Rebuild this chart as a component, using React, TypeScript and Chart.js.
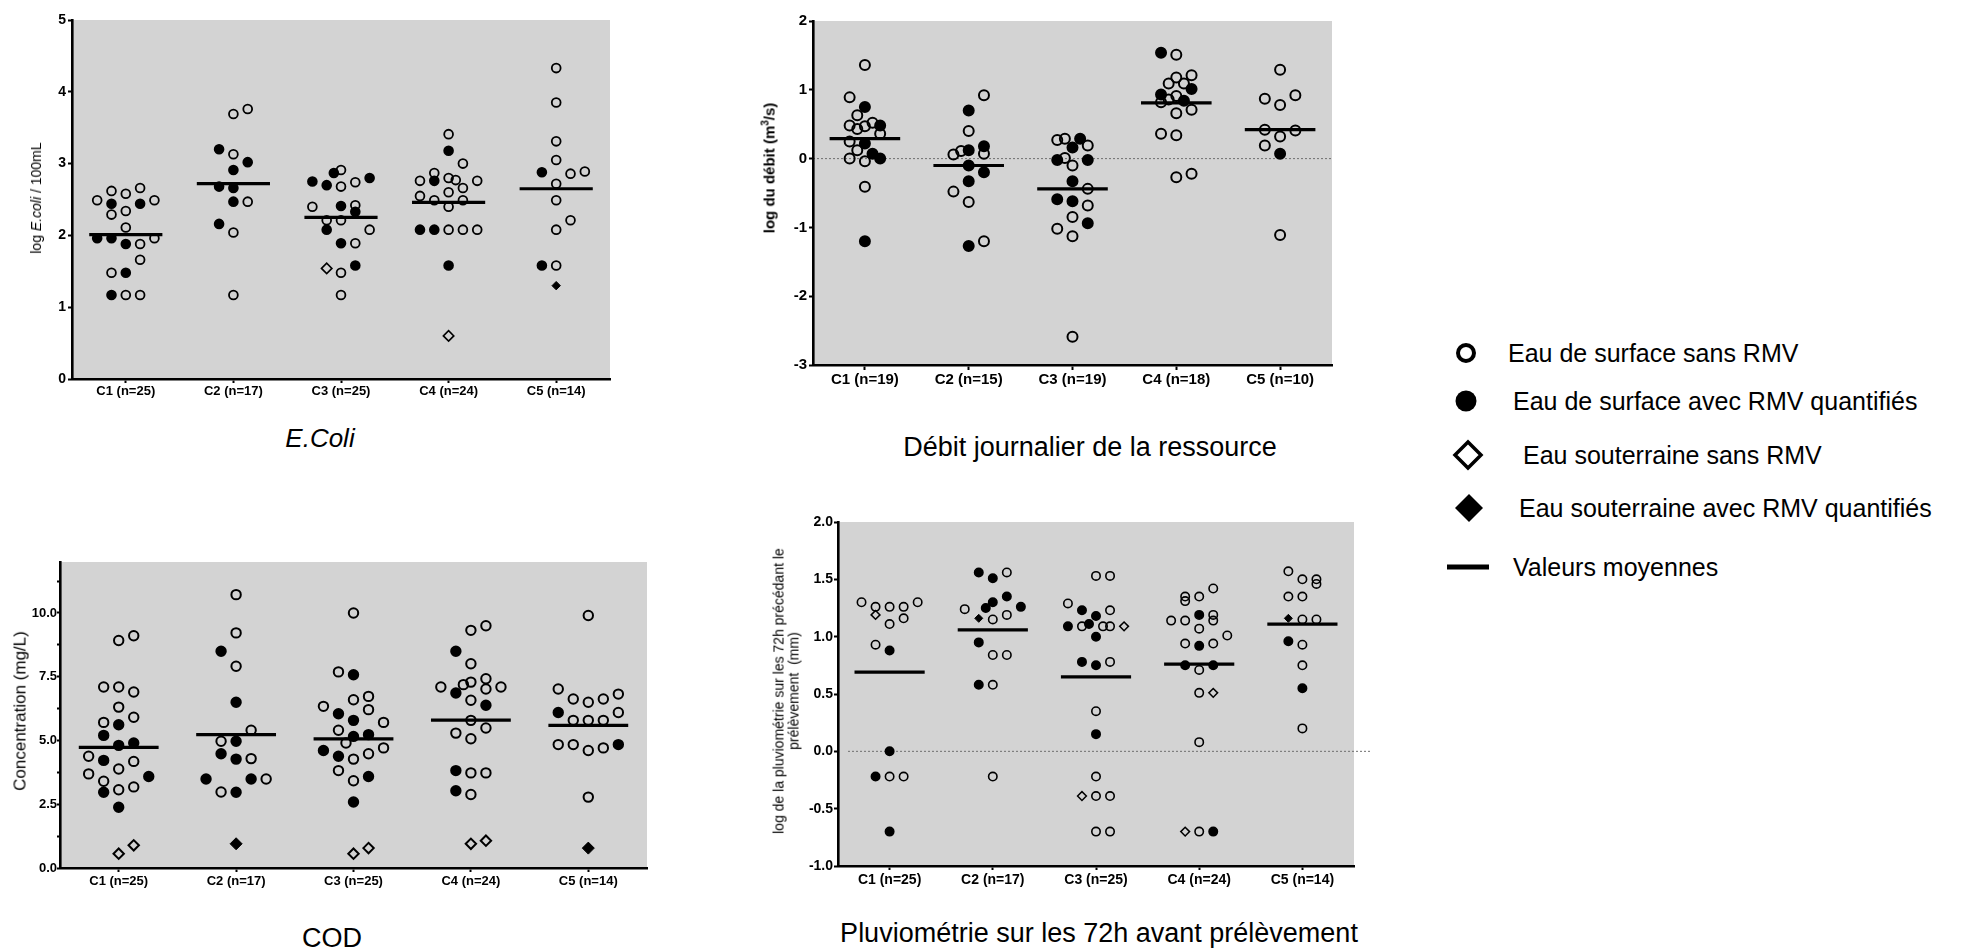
import React, { useEffect, useRef } from 'react';
import { Chart, registerables } from 'chart.js';

Chart.register(...registerables);

type Kind = 'o' | 'f' | 'd' | 'D';
// [category number (1..5), swarm slot, value, kind]
type Pt = [number, number, number, Kind];

const FONT = "'Liberation Sans', Arial, Helvetica, sans-serif";

// ---------- Categories ----------
const ecoliCategories = ['C1 (n=25)', 'C2 (n=17)', 'C3 (n=25)', 'C4 (n=24)', 'C5 (n=14)'];
const debitCategories = ['C1 (n=19)', 'C2 (n=15)', 'C3 (n=19)', 'C4 (n=18)', 'C5 (n=10)'];
const codCategories = ['C1 (n=25)', 'C2 (n=17)', 'C3 (n=25)', 'C4 (n=24)', 'C5 (n=14)'];
const pluvioCategories = ['C1 (n=25)', 'C2 (n=17)', 'C3 (n=25)', 'C4 (n=24)', 'C5 (n=14)'];

// ---------- Y ticks ----------
const ecoliYTicks = [0, 1, 2, 3, 4, 5];
const ecoliYLabels = ['0', '1', '2', '3', '4', '5'];
const debitYTicks = [-3, -2, -1, 0, 1, 2];
const debitYLabels = ['-3', '-2', '-1', '0', '1', '2'];
const codYTicks = [0, 1.25, 2.5, 3.75, 5, 6.25, 7.5, 8.75, 10, 11.25];
const codYLabels = ['0.0', '', '2.5', '', '5.0', '', '7.5', '', '10.0', ''];
const pluvioYTicks = [-1, -0.5, 0, 0.5, 1, 1.5, 2];
const pluvioYLabels = ['-1.0', '-0.5', '0.0', '0.5', '1.0', '1.5', '2.0'];

// ---------- Means ----------
const ecoliMeans = [2.01, 2.72, 2.25, 2.46, 2.65];
const debitMeans = [0.29, -0.1, -0.44, 0.81, 0.42];
const codMeans = [4.73, 5.23, 5.06, 5.8, 5.59];
const pluvioMeans = [0.69, 1.06, 0.65, 0.76, 1.11];

// ---------- Points ----------
const ecoliPoints: Pt[] = [
  [1, -2, 2.49, 'o'], [1, -1, 2.62, 'o'], [1, 0, 2.58, 'o'], [1, 1, 2.66, 'o'], [1, 2, 2.49, 'o'],
  [1, -1, 2.44, 'f'], [1, 1, 2.44, 'f'], [1, -1, 2.29, 'o'], [1, 0, 2.34, 'o'], [1, 0, 2.11, 'o'],
  [1, -2, 1.96, 'f'], [1, -1, 1.96, 'f'], [1, 0, 1.88, 'f'], [1, 1, 1.88, 'o'], [1, 2, 1.96, 'o'],
  [1, 1, 1.66, 'o'], [1, -1, 1.48, 'o'], [1, 0, 1.48, 'f'], [1, -1, 1.17, 'f'], [1, 0, 1.17, 'o'], [1, 1, 1.17, 'o'],
  [2, 0, 3.69, 'o'], [2, 1, 3.76, 'o'], [2, -1, 3.2, 'f'], [2, 0, 3.13, 'o'], [2, 1, 3.02, 'f'], [2, 0, 2.91, 'f'],
  [2, -1, 2.68, 'f'], [2, 0, 2.66, 'f'], [2, 0, 2.47, 'f'], [2, 1, 2.47, 'o'], [2, -1, 2.16, 'f'], [2, 0, 2.04, 'o'], [2, 0, 1.17, 'o'],
  [3, -2, 2.75, 'f'], [3, -1, 2.7, 'f'], [3, -0.5, 2.87, 'f'], [3, 0, 2.91, 'o'], [3, 0, 2.68, 'o'], [3, 1, 2.74, 'o'], [3, 2, 2.8, 'f'],
  [3, -2, 2.4, 'o'], [3, 0, 2.41, 'f'], [3, 1, 2.42, 'o'], [3, 1, 2.33, 'f'], [3, -1, 2.21, 'o'], [3, 0, 2.21, 'o'],
  [3, -1, 2.08, 'f'], [3, 2, 2.08, 'o'], [3, 0, 1.89, 'f'], [3, 1, 1.89, 'o'], [3, -1, 1.54, 'd'], [3, 0, 1.48, 'o'], [3, 1, 1.58, 'f'], [3, 0, 1.17, 'o'],
  [4, 0, 3.41, 'o'], [4, 0, 3.18, 'f'], [4, 1, 3.0, 'o'], [4, -1, 2.87, 'o'], [4, -2, 2.76, 'o'], [4, -1, 2.76, 'f'], [4, 0, 2.8, 'o'],
  [4, 0.5, 2.77, 'o'], [4, 2, 2.76, 'o'], [4, 1, 2.66, 'o'], [4, 0, 2.6, 'o'], [4, -2, 2.55, 'o'], [4, -1, 2.49, 'o'], [4, 1, 2.49, 'o'], [4, 0, 2.4, 'o'],
  [4, -2, 2.08, 'f'], [4, -1, 2.08, 'f'], [4, 0, 2.08, 'o'], [4, 1, 2.08, 'o'], [4, 2, 2.08, 'o'], [4, 0, 1.58, 'f'], [4, 0, 0.6, 'd'],
  [5, 0, 4.33, 'o'], [5, 0, 3.85, 'o'], [5, 0, 3.31, 'o'], [5, 0, 3.05, 'o'], [5, -1, 2.88, 'f'], [5, 1, 2.86, 'o'], [5, 2, 2.89, 'o'],
  [5, 0, 2.72, 'o'], [5, 0, 2.49, 'o'], [5, 1, 2.21, 'o'], [5, 0, 2.08, 'o'], [5, -1, 1.58, 'f'], [5, 0, 1.58, 'o'], [5, 0, 1.3, 'D'],
];

const debitPoints: Pt[] = [
  [1, 0, 1.36, 'o'], [1, -1, 0.89, 'o'], [1, 0, 0.75, 'f'], [1, -0.5, 0.63, 'o'], [1, -1, 0.48, 'o'], [1, -0.5, 0.43, 'o'],
  [1, 0, 0.47, 'o'], [1, 0.5, 0.52, 'o'], [1, 1, 0.48, 'f'], [1, 1, 0.36, 'o'], [1, -1, 0.25, 'o'], [1, 0, 0.22, 'f'],
  [1, -0.5, 0.12, 'o'], [1, 0.5, 0.07, 'f'], [1, -1, 0.0, 'o'], [1, 0, -0.04, 'o'], [1, 1, 0.0, 'f'], [1, 0, -0.41, 'o'], [1, 0, -1.2, 'f'],
  [2, 1, 0.92, 'o'], [2, 0, 0.7, 'f'], [2, 0, 0.4, 'o'], [2, -1, 0.06, 'o'], [2, -0.5, 0.11, 'o'], [2, 0, 0.12, 'f'], [2, 1, 0.18, 'f'],
  [2, 1, 0.07, 'o'], [2, 0, -0.1, 'f'], [2, 1, -0.2, 'f'], [2, 0, -0.33, 'f'], [2, -1, -0.48, 'o'], [2, 0, -0.63, 'o'], [2, 0, -1.27, 'f'], [2, 1, -1.2, 'o'],
  [3, -1, 0.27, 'o'], [3, -0.5, 0.29, 'o'], [3, 0.5, 0.29, 'f'], [3, 0, 0.16, 'f'], [3, 1, 0.19, 'o'], [3, -1, -0.02, 'f'], [3, -0.5, 0.01, 'o'],
  [3, 0, -0.1, 'o'], [3, 1, -0.02, 'f'], [3, 0, -0.33, 'f'], [3, 1, -0.44, 'o'], [3, -1, -0.59, 'f'], [3, 0, -0.62, 'f'], [3, 1, -0.68, 'o'],
  [3, 0, -0.85, 'o'], [3, 1, -0.94, 'f'], [3, -1, -1.02, 'o'], [3, 0, -1.13, 'o'], [3, 0, -2.59, 'o'],
  [4, -1, 1.54, 'f'], [4, 0, 1.51, 'o'], [4, 0, 1.18, 'o'], [4, 1, 1.21, 'o'], [4, -0.5, 1.09, 'o'], [4, 0.5, 1.09, 'o'], [4, 1, 1.01, 'f'],
  [4, -1, 0.93, 'f'], [4, -0.5, 0.86, 'o'], [4, 0, 0.91, 'o'], [4, 0.5, 0.84, 'f'], [4, -1, 0.82, 'o'], [4, 1, 0.71, 'o'], [4, 0, 0.66, 'o'],
  [4, -1, 0.36, 'o'], [4, 0, 0.34, 'o'], [4, 0, -0.27, 'o'], [4, 1, -0.22, 'o'],
  [5, 0, 1.29, 'o'], [5, -1, 0.87, 'o'], [5, 0, 0.78, 'o'], [5, 1, 0.92, 'o'], [5, -1, 0.42, 'o'], [5, 1, 0.41, 'o'], [5, 0, 0.32, 'o'],
  [5, -1, 0.19, 'o'], [5, 0, 0.07, 'f'], [5, 0, -1.11, 'o'],
];

const codPoints: Pt[] = [
  [1, 0, 8.92, 'o'], [1, 1, 9.11, 'o'], [1, -1, 7.1, 'o'], [1, 0, 7.1, 'o'], [1, 1, 6.9, 'o'], [1, 0, 6.31, 'o'], [1, -1, 5.71, 'o'],
  [1, 0, 5.62, 'f'], [1, 1, 5.91, 'o'], [1, -1, 5.2, 'f'], [1, 0, 4.81, 'f'], [1, 1, 4.9, 'f'], [1, -2, 4.38, 'o'], [1, -1, 4.22, 'f'],
  [1, 1, 4.18, 'o'], [1, 0, 3.88, 'o'], [1, 2, 3.59, 'f'], [1, -2, 3.69, 'o'], [1, -1, 3.4, 'o'], [1, -1, 2.97, 'f'], [1, 0, 3.07, 'o'],
  [1, 1, 3.18, 'o'], [1, 0, 2.38, 'f'], [1, 0, 0.56, 'd'], [1, 1, 0.89, 'd'],
  [2, 0, 10.72, 'o'], [2, 0, 9.22, 'o'], [2, -1, 8.5, 'f'], [2, 0, 7.91, 'o'], [2, 0, 6.5, 'f'], [2, 1, 5.4, 'o'], [2, -1, 4.97, 'o'],
  [2, 0, 4.97, 'f'], [2, -1, 4.48, 'f'], [2, 0, 4.27, 'f'], [2, 1, 4.29, 'o'], [2, -2, 3.49, 'f'], [2, 1, 3.49, 'f'], [2, 2, 3.49, 'o'],
  [2, -1, 2.98, 'o'], [2, 0, 2.97, 'f'], [2, 0, 0.95, 'D'],
  [3, 0, 10.0, 'o'], [3, -1, 7.69, 'o'], [3, 0, 7.58, 'f'], [3, 0, 6.6, 'o'], [3, 1, 6.73, 'o'], [3, -2, 6.34, 'o'], [3, 1, 6.21, 'o'],
  [3, -1, 6.05, 'f'], [3, 0, 5.79, 'f'], [3, 2, 5.71, 'o'], [3, -1, 5.4, 'o'], [3, 0, 5.16, 'f'], [3, 1, 5.23, 'f'], [3, -0.5, 4.9, 'o'],
  [3, -2, 4.61, 'f'], [3, 2, 4.71, 'o'], [3, -1, 4.38, 'f'], [3, 1, 4.48, 'o'], [3, 0, 4.27, 'o'], [3, -1, 3.82, 'o'], [3, 1, 3.59, 'f'],
  [3, 0, 3.42, 'o'], [3, 0, 2.59, 'f'], [3, 0, 0.56, 'd'], [3, 1, 0.78, 'd'],
  [4, 0, 9.32, 'o'], [4, 1, 9.5, 'o'], [4, -1, 8.5, 'f'], [4, 0, 8.01, 'o'], [4, -2, 7.1, 'o'], [4, -0.5, 7.19, 'o'], [4, 0, 7.29, 'o'],
  [4, 1, 7.42, 'o'], [4, 1, 7.02, 'o'], [4, 2, 7.1, 'o'], [4, -1, 6.86, 'f'], [4, 0, 6.58, 'o'], [4, 1, 6.38, 'f'], [4, 0, 5.79, 'o'],
  [4, 1, 5.49, 'o'], [4, -1, 5.29, 'o'], [4, 0, 5.07, 'o'], [4, -1, 3.82, 'f'], [4, 0, 3.73, 'o'], [4, 1, 3.73, 'o'], [4, -1, 3.03, 'f'],
  [4, 0, 2.88, 'o'], [4, 0, 0.95, 'd'], [4, 1, 1.07, 'd'],
  [5, 0, 9.9, 'o'], [5, -2, 7.02, 'o'], [5, -1, 6.63, 'o'], [5, 0, 6.5, 'o'], [5, 1, 6.63, 'o'], [5, 2, 6.82, 'o'], [5, -2, 6.1, 'f'],
  [5, -1, 5.79, 'o'], [5, 0, 5.79, 'o'], [5, 1, 5.79, 'o'], [5, 2, 6.1, 'o'], [5, -2, 4.84, 'o'], [5, -1, 4.84, 'o'], [5, 0, 4.61, 'o'],
  [5, 1, 4.71, 'o'], [5, 2, 4.84, 'f'], [5, 0, 2.78, 'o'], [5, 0, 0.78, 'D'],
];

const pluvioPoints: Pt[] = [
  [1, -2, 1.3, 'o'], [1, -1, 1.26, 'o'], [1, 0, 1.26, 'o'], [1, 1, 1.26, 'o'], [1, 2, 1.3, 'o'], [1, -1, 1.19, 'd'], [1, 0, 1.11, 'o'],
  [1, 1, 1.16, 'o'], [1, -1, 0.93, 'o'], [1, 0, 0.88, 'f'], [1, 0, 0.0, 'f'], [1, -1, -0.22, 'f'], [1, 0, -0.22, 'o'], [1, 1, -0.22, 'o'], [1, 0, -0.7, 'f'],
  [2, -1, 1.56, 'f'], [2, 0, 1.51, 'f'], [2, 1, 1.56, 'o'], [2, 1, 1.35, 'f'], [2, 0, 1.3, 'f'], [2, -0.5, 1.25, 'f'], [2, -2, 1.24, 'o'],
  [2, 2, 1.26, 'f'], [2, -1, 1.16, 'D'], [2, 0, 1.15, 'o'], [2, 1, 1.19, 'o'], [2, -1, 0.95, 'f'], [2, 0, 0.84, 'o'], [2, 1, 0.84, 'o'],
  [2, -1, 0.58, 'f'], [2, 0, 0.58, 'o'], [2, 0, -0.22, 'o'],
  [3, 0, 1.53, 'o'], [3, 1, 1.53, 'o'], [3, -2, 1.29, 'o'], [3, -1, 1.23, 'f'], [3, 1, 1.23, 'o'], [3, 0, 1.18, 'f'], [3, -2, 1.09, 'f'],
  [3, -1, 1.09, 'o'], [3, -0.5, 1.11, 'f'], [3, 0.5, 1.09, 'o'], [3, 1, 1.09, 'o'], [3, 2, 1.09, 'd'], [3, 0, 1.0, 'f'], [3, -1, 0.78, 'f'],
  [3, 0, 0.75, 'f'], [3, 1, 0.78, 'o'], [3, 0, 0.35, 'o'], [3, 0, 0.15, 'f'], [3, 0, -0.22, 'o'], [3, -1, -0.39, 'd'], [3, 0, -0.39, 'o'],
  [3, 1, -0.39, 'o'], [3, 0, -0.7, 'o'], [3, 1, -0.7, 'o'],
  [4, 1, 1.42, 'o'], [4, -1, 1.35, 'o'], [4, -1, 1.31, 'o'], [4, 0, 1.35, 'o'], [4, 0, 1.19, 'f'], [4, 1, 1.19, 'o'], [4, -2, 1.14, 'o'],
  [4, -1, 1.14, 'o'], [4, 1, 1.14, 'o'], [4, 0, 1.07, 'o'], [4, 2, 1.01, 'o'], [4, -1, 0.94, 'o'], [4, 0, 0.92, 'f'], [4, 1, 0.94, 'o'],
  [4, -1, 0.75, 'f'], [4, 1, 0.75, 'f'], [4, 0, 0.71, 'o'], [4, 0, 0.51, 'o'], [4, 1, 0.51, 'd'], [4, 0, 0.08, 'o'], [4, -1, -0.7, 'd'],
  [4, 0, -0.7, 'o'], [4, 1, -0.7, 'f'],
  [5, -1, 1.57, 'o'], [5, 0, 1.5, 'o'], [5, 1, 1.5, 'o'], [5, 1, 1.46, 'o'], [5, -1, 1.35, 'o'], [5, 0, 1.35, 'o'], [5, -1, 1.16, 'D'],
  [5, 0, 1.15, 'o'], [5, 1, 1.15, 'o'], [5, -1, 0.96, 'f'], [5, 0, 0.93, 'o'], [5, 0, 0.75, 'o'], [5, 0, 0.55, 'f'], [5, 0, 0.2, 'o'],
];

const legendLabels = [
  'Eau de surface sans RMV',
  'Eau de surface avec RMV quantifiés',
  'Eau souterraine sans RMV',
  'Eau souterraine avec RMV quantifiés',
  'Valeurs moyennes',
];

// ---------- Styles / layout (not data) ----------
interface PanelStyle {
  box: { x: number; y: number; w: number; h: number };
  plot: { l: number; t: number; r: number; b: number };
  yMin: number; yMax: number;
  slotStep: number;
  r: number; bw: number; dr: number; dbw: number; Dr: number;
  yFont: number; xFont: number;
  yTickLen: number; yPad: number; xTickLen: number; xPad: number;
  zero?: { start: number; extend: number };
}

interface PanelCfg {
  categories: string[];
  yTicks: number[];
  yLabels: string[];
  means: number[];
  points: Pt[];
  st: PanelStyle;
}

const MEAN_HALF = 0.34;
const GREY = 'rgb(211,211,211)';

const plotBg = {
  id: 'plotBg',
  beforeDraw(chart: any, _args: any, opts: any) {
    const { ctx, chartArea: a } = chart;
    ctx.save();
    ctx.fillStyle = GREY;
    ctx.fillRect(a.left, a.top, a.right - a.left, a.bottom - a.top);
    if (opts && opts.zero) {
      const y = chart.scales.y.getPixelForValue(0);
      ctx.strokeStyle = '#6f6f6f';
      ctx.lineWidth = 1;
      ctx.setLineDash([2, 2]);
      ctx.beginPath();
      ctx.moveTo(a.left + opts.zero.start, y);
      ctx.lineTo(a.right + opts.zero.extend, y);
      ctx.stroke();
    }
    ctx.restore();
  },
};

function buildConfig(p: PanelCfg): any {
  const st = p.st;
  const kinds = [
    { kind: 'o', label: legendLabels[0], style: 'circle', fill: 'rgba(0,0,0,0)', r: st.r, bw: st.bw },
    { kind: 'f', label: legendLabels[1], style: 'circle', fill: '#000', r: st.r, bw: st.bw },
    { kind: 'd', label: legendLabels[2], style: 'rectRot', fill: 'rgba(0,0,0,0)', r: st.dr, bw: st.dbw },
    { kind: 'D', label: legendLabels[3], style: 'rectRot', fill: '#000', r: st.Dr, bw: 1 },
  ];
  const datasets: any[] = kinds.map((k) => ({
    label: k.label,
    data: p.points
      .filter((pt) => pt[3] === k.kind)
      .map((pt) => ({ x: pt[0] + pt[1] * st.slotStep, y: pt[2] })),
    pointStyle: k.style,
    pointRadius: k.r,
    pointBorderWidth: k.bw,
    pointBackgroundColor: k.fill,
    pointBorderColor: '#000',
    showLine: false,
    clip: false,
    order: 1,
  }));
  p.means.forEach((m, i) => {
    datasets.push({
      label: legendLabels[4],
      data: [
        { x: i + 1 - MEAN_HALF, y: m },
        { x: i + 1 + MEAN_HALF, y: m },
      ],
      showLine: true,
      borderColor: '#000',
      borderWidth: 3.2,
      pointRadius: 0,
      clip: false,
      order: 0,
    });
  });

  const axisGrid = (len: number) => ({
    display: true,
    drawOnChartArea: false,
    drawTicks: true,
    tickLength: len,
    tickColor: '#000',
    tickWidth: 2,
  });

  return {
    type: 'scatter',
    data: { datasets },
    plugins: [plotBg],
    options: {
      animation: false,
      responsive: false,
      maintainAspectRatio: false,
      events: [],
      layout: {
        autoPadding: false,
        padding: {
          left: 0,
          top: st.plot.t - st.box.y,
          right: st.box.x + st.box.w - st.plot.r,
          bottom: 0,
        },
      },
      plugins: {
        legend: { display: false },
        tooltip: { enabled: false },
        plotBg: { zero: st.zero },
      },
      scales: {
        x: {
          type: 'linear',
          position: 'bottom',
          min: 0.5,
          max: 5.5,
          afterBuildTicks: (s: any) => {
            s.ticks = p.categories.map((_, i) => ({ value: i + 1 }));
          },
          afterFit: (s: any) => {
            s.height = st.box.y + st.box.h - st.plot.b;
          },
          ticks: {
            autoSkip: false,
            maxRotation: 0,
            minRotation: 0,
            padding: st.xPad,
            color: '#000',
            font: { family: FONT, size: st.xFont, weight: 'bold' },
            callback: (v: number) => p.categories[Math.round(v) - 1] ?? '',
          },
          grid: axisGrid(st.xTickLen),
          border: { display: true, color: '#000', width: 2.6 },
        },
        y: {
          type: 'linear',
          min: st.yMin,
          max: st.yMax,
          afterBuildTicks: (s: any) => {
            s.ticks = p.yTicks.map((v) => ({ value: v }));
          },
          afterFit: (s: any) => {
            s.width = st.plot.l - st.box.x;
          },
          ticks: {
            autoSkip: false,
            padding: st.yPad,
            color: '#000',
            font: { family: FONT, size: st.yFont, weight: 'bold' },
            callback: (v: number) => {
              const i = p.yTicks.findIndex((t) => Math.abs(t - v) < 1e-9);
              return i >= 0 ? p.yLabels[i] : '';
            },
          },
          grid: axisGrid(st.yTickLen),
          border: { display: true, color: '#000', width: 2.6 },
        },
      },
    },
  };
}

function Panel({ cfg }: { cfg: PanelCfg }) {
  const ref = useRef<HTMLCanvasElement>(null);
  useEffect(() => {
    if (!ref.current) return;
    const chart = new Chart(ref.current, buildConfig(cfg));
    return () => chart.destroy();
  }, [cfg]);
  const b = cfg.st.box;
  return (
    <canvas
      ref={ref}
      width={b.w}
      height={b.h}
      style={{ position: 'absolute', left: b.x, top: b.y, width: b.w, height: b.h }}
    />
  );
}

const ecoliCfg: PanelCfg = {
  categories: ecoliCategories, yTicks: ecoliYTicks, yLabels: ecoliYLabels, means: ecoliMeans, points: ecoliPoints,
  st: {
    box: { x: 0, y: 0, w: 640, h: 410 }, plot: { l: 72, t: 20, r: 610, b: 379 }, yMin: 0, yMax: 5,
    slotStep: 0.133, r: 4.4, bw: 1.8, dr: 5.2, dbw: 1.6, Dr: 4.2,
    yFont: 14, xFont: 13, yTickLen: 4, yPad: 2, xTickLen: 4, xPad: 1,
  },
};
const debitCfg: PanelCfg = {
  categories: debitCategories, yTicks: debitYTicks, yLabels: debitYLabels, means: debitMeans, points: debitPoints,
  st: {
    box: { x: 740, y: 0, w: 620, h: 395 }, plot: { l: 813, t: 21, r: 1332, b: 365 }, yMin: -3, yMax: 2,
    slotStep: 0.147, r: 5, bw: 2, dr: 5.5, dbw: 1.8, Dr: 5,
    yFont: 15, xFont: 15, yTickLen: 4, yPad: 2, xTickLen: 5, xPad: 1,
    zero: { start: 0, extend: 0 },
  },
};
const codCfg: PanelCfg = {
  categories: codCategories, yTicks: codYTicks, yLabels: codYLabels, means: codMeans, points: codPoints,
  st: {
    box: { x: 0, y: 550, w: 680, h: 350 }, plot: { l: 60, t: 562, r: 647, b: 868 }, yMin: 0, yMax: 12,
    slotStep: 0.128, r: 4.7, bw: 2, dr: 5.2, dbw: 2, Dr: 6,
    yFont: 13, xFont: 13, yTickLen: 3, yPad: 0, xTickLen: 4, xPad: 2,
  },
};
const pluvioCfg: PanelCfg = {
  categories: pluvioCategories, yTicks: pluvioYTicks, yLabels: pluvioYLabels, means: pluvioMeans, points: pluvioPoints,
  st: {
    box: { x: 740, y: 500, w: 640, h: 400 }, plot: { l: 838, t: 522, r: 1354, b: 866 }, yMin: -1, yMax: 2,
    slotStep: 0.136, r: 4.2, bw: 1.6, dr: 4.4, dbw: 1.5, Dr: 4,
    yFont: 14, xFont: 14, yTickLen: 4, yPad: 1, xTickLen: 4, xPad: 2,
    zero: { start: 10, extend: 18 },
  },
};

const abs = (x: number, y: number, extra: React.CSSProperties = {}): React.CSSProperties => ({
  position: 'absolute',
  left: x,
  top: y,
  fontFamily: FONT,
  color: '#000',
  whiteSpace: 'nowrap',
  lineHeight: 1,
  ...extra,
});

const center = 'translate(-50%,-50%)';
const vert = 'translate(-50%,-50%) rotate(-90deg)';

function Legend() {
  const rows = [
    { y: 353, tx: 1508 },
    { y: 401, tx: 1513 },
    { y: 455, tx: 1523 },
    { y: 508, tx: 1519 },
    { y: 567, tx: 1513 },
  ];
  return (
    <>
      <svg style={{ position: 'absolute', left: 1430, top: 330, overflow: 'visible' }} width={80} height={260}>
        <circle cx={36} cy={23} r={8} fill="none" stroke="#000" strokeWidth={4} />
        <circle cx={36} cy={71} r={10.5} fill="#000" />
        <polygon points="38,112 51,125 38,138 25,125" fill="none" stroke="#000" strokeWidth={3.5} />
        <polygon points="39,164 53,178 39,192 25,178" fill="#000" />
        <rect x={17} y={234.5} width={42} height={5} fill="#000" />
      </svg>
      {rows.map((r, i) => (
        <div key={i} style={abs(r.tx, r.y, { fontSize: 25, transform: 'translateY(-50%)' })}>
          {legendLabels[i]}
        </div>
      ))}
    </>
  );
}

export default function App() {
  return (
    <div>
      <Panel cfg={ecoliCfg} />
      <Panel cfg={debitCfg} />
      <Panel cfg={codCfg} />
      <Panel cfg={pluvioCfg} />

      {/* y-axis titles */}
      <div style={abs(36, 198, { fontSize: 14, transform: vert })}>
        log <i>E.coli</i> / 100mL
      </div>
      <div style={abs(769, 168, { fontSize: 15, fontWeight: 'bold', transform: vert })}>
        log du débit (m<sup style={{ fontSize: 10, verticalAlign: 'super', lineHeight: 0 }}>3</sup>/s)
      </div>
      <div style={abs(20, 711, { fontSize: 17, transform: vert })}>Concentration (mg/L)</div>
      <div style={abs(786, 691, { fontSize: 14, lineHeight: '14.5px', textAlign: 'center', transform: vert })}>
        log de la pluviométrie sur les 72h précédant le
        <br />
        prélèvement&nbsp; (mm)
      </div>

      {/* panel titles */}
      <div style={abs(320, 438, { fontSize: 26, fontStyle: 'italic', transform: center })}>E.Coli</div>
      <div style={abs(1090, 447, { fontSize: 27, transform: center })}>Débit journalier de la ressource</div>
      <div style={abs(332, 938, { fontSize: 27, transform: center })}>COD</div>
      <div style={abs(1099, 933, { fontSize: 27, transform: center })}>Pluviométrie sur les 72h avant prélèvement</div>

      <Legend />
    </div>
  );
}
